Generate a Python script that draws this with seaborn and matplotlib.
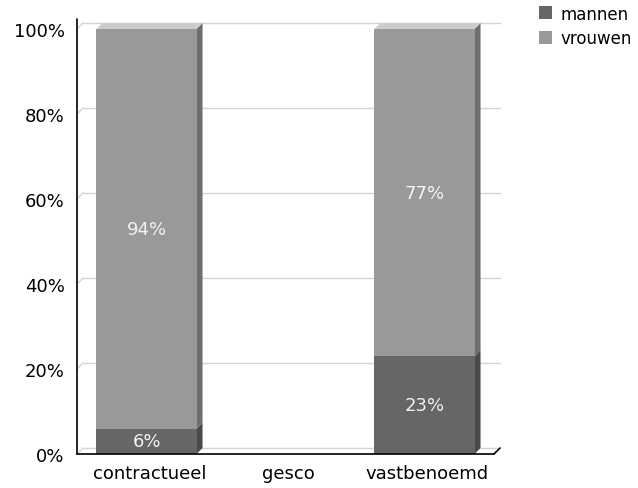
import matplotlib
matplotlib.use('Agg')
import matplotlib.pyplot as plt
import matplotlib.transforms as mtransforms
from matplotlib.patches import Polygon
import numpy as np
import pandas as pd
import seaborn as sns

# Data
categories = ["contractueel", "gesco", "vastbenoemd"]
mannen = [0.06, 0.0, 0.23]
vrouwen = [0.94, 0.0, 0.77]
mannen_labels = ["6%", "", "23%"]
vrouwen_labels = ["94%", "", "77%"]
yticks = [0, 0.2, 0.4, 0.6, 0.8, 1.0]
ytick_labels = ["0%", "20%", "40%", "60%", "80%", "100%"]

df = pd.DataFrame({"categorie": categories, "mannen": mannen, "vrouwen": vrouwen})
df["totaal"] = df["mannen"] + df["vrouwen"]

sns.set_style("white")
plt.rcParams['font.family'] = ['DejaVu Sans']
plt.rcParams['text.color'] = 'black'
plt.rcParams['xtick.color'] = 'black'
plt.rcParams['ytick.color'] = 'black'

W, H = 638, 489
fig = plt.figure(figsize=(W / 100, H / 100), dpi=100)
# front plane of the pseudo-3D plot
ax = fig.add_axes([77 / W, (H - 455) / H, 417 / W, 425 / H])

col_m, col_v = "#666666", "#999999"
side_m, side_v = "#4a4a4a", "#6e6e6e"
top_v = "#cccccc"

sns.barplot(data=df, x="categorie", y="totaal", color=col_v, saturation=1,
            width=0.72, label="vrouwen", ax=ax, zorder=3, linewidth=0, edgecolor="none")
sns.barplot(data=df, x="categorie", y="mannen", color=col_m, saturation=1,
            width=0.72, label="mannen", ax=ax, zorder=4, linewidth=0, edgecolor="none")
if ax.get_legend() is not None:
    ax.get_legend().remove()

ax.set_xlim(-0.5, 2.5)
ax.set_ylim(0, 1)
for s in ax.spines.values():
    s.set_visible(False)

# depth offset (pixels -> data units)
dx = 6 * 3.0 / 417
dy = 6 * 1.0 / 425

# back-wall gridlines
for v in yticks:
    ax.plot([-0.5 + dx, 2.5 + dx], [v + dy, v + dy], color="#d4d4d4", lw=1,
            zorder=1, clip_on=False)
    ax.plot([-0.5, -0.5 + dx], [v, v + dy], color="#d4d4d4", lw=1,
            zorder=1, clip_on=False)

# front axis lines
ax.plot([-0.5, -0.5], [0, 1.023], color="black", lw=1.2, zorder=6, clip_on=False)
ax.plot([-0.5, 2.5], [0, 0], color="black", lw=1.2, zorder=6, clip_on=False)
ax.plot([2.5, 2.5 + dx], [0, dy], color="black", lw=1.2, zorder=6, clip_on=False)

# 3D faces for each bar segment
n = len(categories)
back_patches = ax.patches[:n]
front_patches = ax.patches[n:2 * n]
for pv, pm in zip(back_patches, front_patches):
    x0 = pv.get_x()
    w = pv.get_width()
    h_tot = pv.get_height()
    h_m = pm.get_height()
    if not np.isfinite(h_tot) or h_tot <= 0:
        continue
    x1 = x0 + w
    for (y0, y1, c) in [(0, h_m, side_m), (h_m, h_tot, side_v)]:
        if y1 > y0:
            ax.add_patch(Polygon([(x1, y0), (x1 + dx, y0 + dy), (x1 + dx, y1 + dy), (x1, y1)],
                                 closed=True, facecolor=c, edgecolor="none", zorder=2,
                                 clip_on=False))
    ax.add_patch(Polygon([(x0, h_tot), (x1, h_tot), (x1 + dx, h_tot + dy), (x0 + dx, h_tot + dy)],
                         closed=True, facecolor=top_v, edgecolor="none", zorder=2,
                         clip_on=False))

# value labels
for i in range(n):
    if mannen_labels[i]:
        ax.text(i, mannen[i] / 2, mannen_labels[i], ha="center", va="center",
                color="#f2f2f2", fontsize=13, zorder=7)
    if vrouwen_labels[i]:
        ax.text(i, mannen[i] + vrouwen[i] / 2, vrouwen_labels[i], ha="center",
                va="center", color="#f2f2f2", fontsize=13, zorder=7)

ax.set_yticks(yticks)
ax.set_yticklabels(ytick_labels, fontsize=13)
ax.set_xticks(range(n))
ax.set_xticklabels(categories, fontsize=13)
ax.tick_params(axis="both", length=0)
ax.tick_params(axis="y", pad=9)
ax.tick_params(axis="x", pad=7)
ax.set_xlabel("")
ax.set_ylabel("")
shift = mtransforms.ScaledTranslation(3 / 100, 0, fig.dpi_scale_trans)
for lab in ax.get_xticklabels():
    lab.set_transform(lab.get_transform() + shift)

handles, labels = ax.get_legend_handles_labels()
order = [labels.index("mannen"), labels.index("vrouwen")]
fig.legend([handles[i] for i in order], [labels[i] for i in order],
           loc="upper left", bbox_to_anchor=(532 / W, 1 + 1 / H), frameon=False,
           fontsize=12, handlelength=0.8, handleheight=0.8, handletextpad=0.5,
           labelspacing=0.4, borderaxespad=0)

fig.savefig("out.png", dpi=100)
